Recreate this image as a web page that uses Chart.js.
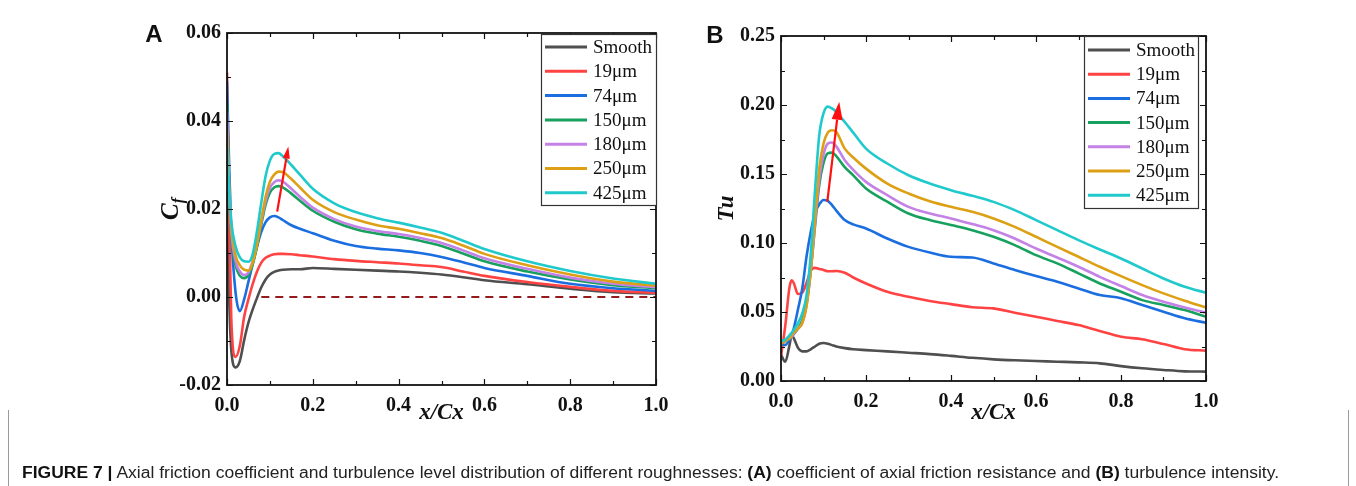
<!DOCTYPE html>
<html>
<head>
<meta charset="utf-8">
<script src="https://cdn.jsdelivr.net/npm/chart.js@4.4.1/dist/chart.umd.min.js"></script>
<style>
  html, body { margin: 0; padding: 0; background: #fff; }
  #page { position: relative; width: 1356px; height: 486px; overflow: hidden; }
  .panel { position: absolute; top: 0; }
  #captionBox {
    position: absolute; left: 8px; top: 410px; width: 1339px; height: 80px;
    border-left: 1px solid #9a9a9a; border-right: 1px solid #9a9a9a;
  }
  #caption {
    position: absolute; left: 13px; top: 54px; white-space: nowrap;
    font: 16px "Liberation Sans Narrow", "Liberation Sans", Arial, sans-serif;
    color: #222; transform-origin: 0 0;
  }
  #caption b { font-weight: bold; color: #111; }
</style>
</head>
<body>
<div id="page">
  <div class="panel" style="left:0"><canvas id="chartA" width="680" height="430"></canvas></div>
  <div class="panel" style="left:680px"><canvas id="chartB" width="676" height="430"></canvas></div>
  <div id="captionBox">
    <div id="caption"><b>FIGURE 7 |</b> Axial friction coefficient and turbulence level distribution of different roughnesses: <b>(A)</b> coefficient of axial friction resistance and <b>(B)</b> turbulence intensity.</div>
  </div>
</div>
<script>
// series names and colours (shared by both panels)
const seriesNames = ['Smooth', '19μm', '74μm', '150μm', '180μm', '250μm', '425μm'];
const seriesColors = ['#4f4f4f', '#ff4343', '#1b6ee0', '#18a05e', '#c481e6', '#dda014', '#20c9cc'];

// Panel A: axial friction coefficient Cf vs x/Cx
const xA = [0, 0.005, 0.01, 0.02, 0.03, 0.04, 0.05, 0.06, 0.07, 0.08, 0.09, 0.10, 0.11, 0.12, 0.13, 0.15, 0.17, 0.20,
            0.25, 0.30, 0.35, 0.40, 0.45, 0.50, 0.55, 0.60, 0.70, 0.80, 0.90, 1.00];
const cfSmooth = [0.024, 0.000, -0.012, -0.0160, -0.0145, -0.0098, -0.0058, -0.0028, -0.0002, 0.0022, 0.0040, 0.0051, 0.0057, 0.0060, 0.0062, 0.0063, 0.0063, 0.0066,
                  0.0064, 0.0062, 0.0060, 0.0058, 0.0055, 0.0051, 0.0045, 0.0038, 0.0029, 0.0019, 0.0011, 0.0008];
const cf19 = [0.051, 0.020, -0.005, -0.0136, -0.0110, -0.0045, -0.0005, 0.0030, 0.0058, 0.0078, 0.0089, 0.0094, 0.0097, 0.0098, 0.0098, 0.0097, 0.0095, 0.0092,
              0.0086, 0.0082, 0.0079, 0.0076, 0.0072, 0.0068, 0.0058, 0.0048, 0.0034, 0.0023, 0.0014, 0.0010];
const cf74 = [0.049, 0.030, 0.015, 0.0010, -0.0032, -0.0005, 0.0035, 0.0075, 0.0115, 0.0148, 0.0170, 0.0181, 0.0184, 0.0181, 0.0175, 0.0163, 0.0155, 0.0145,
              0.0128, 0.0116, 0.0110, 0.0106, 0.0100, 0.0091, 0.0079, 0.0066, 0.0048, 0.0030, 0.0020, 0.0014];
const cf150 = [0.044, 0.024, 0.014, 0.0072, 0.0048, 0.0043, 0.0050, 0.0075, 0.0115, 0.0165, 0.0210, 0.0237, 0.0249, 0.0252, 0.0249, 0.0235, 0.0219, 0.0196,
               0.0171, 0.0154, 0.0144, 0.0137, 0.0128, 0.0116, 0.0099, 0.0081, 0.0058, 0.0040, 0.0027, 0.0020];
const cf180 = [0.042, 0.025, 0.015, 0.0082, 0.0058, 0.0050, 0.0056, 0.0082, 0.0122, 0.0172, 0.0218, 0.0248, 0.0261, 0.0265, 0.0262, 0.0246, 0.0228, 0.0203,
               0.0177, 0.0160, 0.0150, 0.0143, 0.0134, 0.0123, 0.0106, 0.0088, 0.0064, 0.0044, 0.0030, 0.0022];
const cf250 = [0.038, 0.025, 0.016, 0.0095, 0.0072, 0.0062, 0.0060, 0.0078, 0.0120, 0.0175, 0.0228, 0.0262, 0.0278, 0.0285, 0.0284, 0.0268, 0.0249, 0.0221,
               0.0193, 0.0176, 0.0163, 0.0155, 0.0145, 0.0134, 0.0117, 0.0098, 0.0072, 0.0051, 0.0035, 0.0026];
const cf425 = [0.034, 0.024, 0.017, 0.0115, 0.0090, 0.0081, 0.0080, 0.0098, 0.0150, 0.0215, 0.0275, 0.0310, 0.0325, 0.0327, 0.0320, 0.0300, 0.0278, 0.0246,
               0.0213, 0.0193, 0.0179, 0.0169, 0.0158, 0.0146, 0.0128, 0.0109, 0.0081, 0.0059, 0.0042, 0.0030];
const cfZeroX = [0.08, 1.0];
const cfZeroY = [0, 0];
const cfTicks = { min: -0.02, max: 0.06, step: 0.02, minor: 0.01 };
const arrowA = [[0.117, 0.0194], [0.143, 0.0342]];

// Panel B: turbulence intensity Tu vs x/Cx
const xB = [0, 0.01, 0.02, 0.025, 0.03, 0.04, 0.05, 0.06, 0.07, 0.08, 0.09, 0.10, 0.11, 0.12, 0.13, 0.15, 0.17, 0.20,
            0.25, 0.30, 0.35, 0.40, 0.45, 0.50, 0.55, 0.60, 0.65, 0.70, 0.75, 0.80, 0.85, 0.90, 0.95, 1.00];
const tuSmooth = [0.019, 0.014, 0.026, 0.033, 0.031, 0.024, 0.0215, 0.0215, 0.023, 0.025, 0.027, 0.0275, 0.027, 0.026, 0.025, 0.0238, 0.023, 0.0224,
                  0.0215, 0.0205, 0.0195, 0.0182, 0.0168, 0.0157, 0.0150, 0.0145, 0.0140, 0.0135, 0.0128, 0.0108, 0.0092, 0.0080, 0.0070, 0.0068];
const tu19 = [0.018, 0.040, 0.068, 0.073, 0.071, 0.063, 0.064, 0.071, 0.080, 0.082, 0.0812, 0.0805, 0.0795, 0.0795, 0.0797, 0.0785, 0.075, 0.0707,
              0.0647, 0.0610, 0.0580, 0.0557, 0.0535, 0.0526, 0.0495, 0.0466, 0.0435, 0.0405, 0.0362, 0.0321, 0.0302, 0.0268, 0.0230, 0.0220];
const tu74 = [0.027, 0.026, 0.030, 0.033, 0.038, 0.052, 0.067, 0.090, 0.108, 0.1215, 0.128, 0.1312, 0.1305, 0.1275, 0.1235, 0.1166, 0.1135, 0.1105,
              0.1033, 0.0972, 0.0931, 0.0900, 0.0895, 0.0852, 0.0804, 0.0760, 0.0719, 0.0671, 0.0623, 0.0600, 0.0550, 0.0502, 0.0454, 0.0422];
const tu150 = [0.028, 0.029, 0.031, 0.032, 0.034, 0.038, 0.044, 0.056, 0.080, 0.112, 0.142, 0.158, 0.165, 0.1655, 0.163, 0.155, 0.149, 0.1395,
               0.1300, 0.1214, 0.1166, 0.1130, 0.1093, 0.1045, 0.0985, 0.0912, 0.0852, 0.0780, 0.0707, 0.0647, 0.0586, 0.0550, 0.0514, 0.0466];
const tu180 = [0.028, 0.029, 0.031, 0.032, 0.034, 0.038, 0.042, 0.055, 0.080, 0.114, 0.146, 0.164, 0.172, 0.1728, 0.170, 0.160, 0.153, 0.1443,
               0.1347, 0.1262, 0.1214, 0.1178, 0.1137, 0.1093, 0.1033, 0.0960, 0.0895, 0.0828, 0.0755, 0.0688, 0.0623, 0.0574, 0.0533, 0.0495];
const tu250 = [0.027, 0.029, 0.031, 0.033, 0.035, 0.038, 0.042, 0.054, 0.080, 0.118, 0.154, 0.172, 0.180, 0.1817, 0.1805, 0.1684, 0.162, 0.1539,
               0.1431, 0.1359, 0.1303, 0.1262, 0.1226, 0.1178, 0.1117, 0.1045, 0.0972, 0.0900, 0.0828, 0.0760, 0.0695, 0.0635, 0.0582, 0.0533];
const tu425 = [0.029, 0.030, 0.033, 0.035, 0.037, 0.042, 0.049, 0.062, 0.092, 0.138, 0.178, 0.194, 0.1988, 0.1975, 0.195, 0.1877, 0.180, 0.1684,
               0.1576, 0.1491, 0.1431, 0.1383, 0.1342, 0.1298, 0.1238, 0.1166, 0.1093, 0.1021, 0.0953, 0.0888, 0.0815, 0.0743, 0.0683, 0.0639];
const tuTicks = { min: 0, max: 0.25, step: 0.05, minor: 0.025 };
const arrowB = [[0.109, 0.130], [0.137, 0.2024]];

const xTicks = { min: 0, max: 1, step: 0.2, minor: 0.1 };

const serifTitle = 'italic bold 23px "Liberation Serif", "Times New Roman", serif';

// frame, inward ticks, arrow, legend, axis titles and panel letter
const panelDecor = {
  id: 'panelDecor',
  afterDatasetsDraw(chart, args, o) {
    const { ctx, chartArea: a, scales } = chart;
    const sx = scales.x, sy = scales.y;
    ctx.save();

    // arrow
    const [p0, p1] = o.arrow;
    const x0 = sx.getPixelForValue(p0[0]), y0 = sy.getPixelForValue(p0[1]);
    const x1 = sx.getPixelForValue(p1[0]), y1 = sy.getPixelForValue(p1[1]);
    const ang = Math.atan2(y1 - y0, x1 - x0);
    const hl = o.headLen, hw = o.headWidth;
    const bx = x1 - hl * Math.cos(ang), by = y1 - hl * Math.sin(ang);
    ctx.strokeStyle = '#ff1010';
    ctx.fillStyle = '#ff1010';
    ctx.lineWidth = 2.2;
    ctx.beginPath();
    ctx.moveTo(x0, y0);
    ctx.lineTo(bx, by);
    ctx.stroke();
    ctx.beginPath();
    ctx.moveTo(x1, y1);
    ctx.lineTo(bx + hw / 2 * Math.sin(ang), by - hw / 2 * Math.cos(ang));
    ctx.lineTo(bx - hw / 2 * Math.sin(ang), by + hw / 2 * Math.cos(ang));
    ctx.closePath();
    ctx.fill();

    // frame
    ctx.strokeStyle = '#111';
    ctx.lineWidth = 1.8;
    ctx.strokeRect(a.left, a.top, a.right - a.left, a.bottom - a.top);

    // inward ticks on all four sides
    ctx.lineWidth = 1.2;
    ctx.beginPath();
    const xt = o.xTicks;
    for (let v = xt.min; v <= xt.max + 1e-9; v += xt.minor) {
      const px = Math.round(sx.getPixelForValue(v)) + 0.5;
      const major = Math.abs(v / xt.step - Math.round(v / xt.step)) < 1e-6;
      const len = major ? 6 : 4;
      ctx.moveTo(px, a.bottom); ctx.lineTo(px, a.bottom - len);
      ctx.moveTo(px, a.top); ctx.lineTo(px, a.top + len);
    }
    const yt = o.yTicks;
    for (let v = yt.min; v <= yt.max + 1e-9; v += yt.minor) {
      const py = Math.round(sy.getPixelForValue(v)) + 0.5;
      const major = Math.abs((v - yt.min) / yt.step - Math.round((v - yt.min) / yt.step)) < 1e-6;
      const len = major ? 6 : 4;
      ctx.moveTo(a.left, py); ctx.lineTo(a.left + len, py);
      ctx.moveTo(a.right, py); ctx.lineTo(a.right - len, py);
    }
    ctx.stroke();

    // legend
    const lg = o.legend;
    ctx.fillStyle = '#fff';
    ctx.fillRect(lg.left, lg.top, lg.width, lg.height);
    ctx.strokeStyle = '#333';
    ctx.lineWidth = 1.2;
    ctx.strokeRect(lg.left + 0.5, lg.top + 0.5, lg.width, lg.height);
    ctx.font = '19px "Liberation Serif", "Times New Roman", serif';
    ctx.textBaseline = 'middle';
    ctx.textAlign = 'left';
    chart.data.datasets.filter(d => d.inLegend).forEach((d, i) => {
      const ry = lg.top + lg.firstRow + i * lg.rowGap;
      ctx.strokeStyle = d.borderColor;
      ctx.lineWidth = 3;
      ctx.beginPath();
      ctx.moveTo(lg.left + lg.lineStart, ry);
      ctx.lineTo(lg.left + lg.lineEnd, ry);
      ctx.stroke();
      ctx.fillStyle = '#111';
      ctx.fillText(d.label, lg.left + lg.textStart, ry + 1);
    });
    ctx.restore();
  },
  afterDraw(chart, args, o) {
    const { ctx, chartArea: a } = chart;
    ctx.save();
    ctx.fillStyle = '#111';
    ctx.textBaseline = 'middle';
    ctx.textAlign = 'center';

    // panel letter
    ctx.font = 'bold 24px "Liberation Sans", Arial, sans-serif';
    ctx.fillText(o.letter, o.letterX, o.letterY);

    // x title
    ctx.font = serifTitle;
    ctx.fillText('x/Cx', (a.left + a.right) / 2, o.xTitleY);

    // y title, rotated
    ctx.translate(o.yTitleX, (a.top + a.bottom) / 2);
    ctx.rotate(-Math.PI / 2);
    if (o.yTitleSub) {
      ctx.font = 'italic bold 25px "Liberation Serif", "Times New Roman", serif';
      const w1 = ctx.measureText(o.yTitle).width;
      ctx.font = 'italic bold 16px "Liberation Serif", "Times New Roman", serif';
      const w2 = ctx.measureText(o.yTitleSub).width;
      const start = -(w1 + w2) / 2;
      ctx.textAlign = 'left';
      ctx.font = 'italic bold 25px "Liberation Serif", "Times New Roman", serif';
      ctx.fillText(o.yTitle, start, 0);
      ctx.font = 'italic bold 16px "Liberation Serif", "Times New Roman", serif';
      ctx.fillText(o.yTitleSub, start + w1, 7);
    } else {
      ctx.fillText(o.yTitle, 0, 0);
    }
    ctx.restore();
  }
};

const buildSets = (xs, cols) => cols.map((ys, i) => ({
  label: seriesNames[i],
  inLegend: true,
  data: xs.map((x, j) => ({ x, y: ys[j] })),
  borderColor: seriesColors[i],
  borderWidth: 2.6,
  pointRadius: 0,
  cubicInterpolationMode: 'monotone',
  order: cols.length - i
}));

const makeChart = (id, datasets, yt, fmt, lay, decor) => new Chart(document.getElementById(id), {
  type: 'line',
  data: { datasets },
  options: {
    responsive: false,
    animation: false,
    events: [],
    layout: { padding: { top: lay.top, right: lay.right, bottom: 0, left: 0 } },
    plugins: { legend: { display: false }, tooltip: { enabled: false }, panelDecor: decor },
    scales: {
      x: {
        type: 'linear', min: xTicks.min, max: xTicks.max,
        grid: { display: false, drawTicks: false },
        border: { display: false },
        ticks: { stepSize: xTicks.step, color: '#111', font: { family: '"Liberation Serif", "Times New Roman", serif', size: 20, weight: 'bold' },
                 padding: lay.xPad, maxRotation: 0, callback: v => v.toFixed(1) },
        afterFit: s => { s.height = lay.xHeight; }
      },
      y: {
        type: 'linear', min: yt.min, max: yt.max,
        grid: { display: false, drawTicks: false },
        border: { display: false },
        ticks: { stepSize: yt.step, color: '#111', font: { family: '"Liberation Serif", "Times New Roman", serif', size: 20, weight: 'bold' },
                 padding: 6, callback: v => v.toFixed(fmt) },
        afterFit: s => { s.width = lay.yWidth; }
      }
    }
  },
  plugins: [panelDecor]
});

// Panel A
const setsA = buildSets(xA, [cfSmooth, cf19, cf74, cf150, cf180, cf250, cf425]);
setsA.push({
  label: 'zero',
  inLegend: false,
  data: cfZeroX.map((x, j) => ({ x, y: cfZeroY[j] })),
  borderColor: '#941a1d',
  borderWidth: 1.8,
  borderDash: [8, 6],
  pointRadius: 0,
  order: 100
});
makeChart('chartA', setsA, cfTicks, 2,
  { top: 33, right: 24, xHeight: 45, yWidth: 227, xPad: 9 },
  {
    letter: 'A', letterX: 154, letterY: 35, xTitleY: 413, yTitleX: 172, yTitle: 'C', yTitleSub: 'f',
    arrow: arrowA, headLen: 12, headWidth: 7, xTicks, yTicks: cfTicks,
    legend: { left: 541, top: 34, width: 115, height: 171, firstRow: 13, rowGap: 24.3, lineStart: 4, lineEnd: 46, textStart: 52 }
  });

// Panel B
makeChart('chartB', buildSets(xB, [tuSmooth, tu19, tu74, tu150, tu180, tu250, tu425]), tuTicks, 2,
  { top: 36, right: 150, xHeight: 49, yWidth: 101, xPad: 9 },
  {
    letter: 'B', letterX: 35, letterY: 36, xTitleY: 413, yTitleX: 47, yTitle: 'Tu', yTitleSub: '',
    arrow: arrowB, headLen: 18, headWidth: 11, xTicks, yTicks: tuTicks,
    legend: { left: 404, top: 36, width: 114, height: 172, firstRow: 14, rowGap: 24.2, lineStart: 4, lineEnd: 46, textStart: 52 }
  });

// squeeze the caption to its line width
const cap = document.getElementById('caption');
const capW = cap.getBoundingClientRect().width;
cap.style.transform = 'scaleX(' + (1257 / capW) + ')';
</script>
</body>
</html>
